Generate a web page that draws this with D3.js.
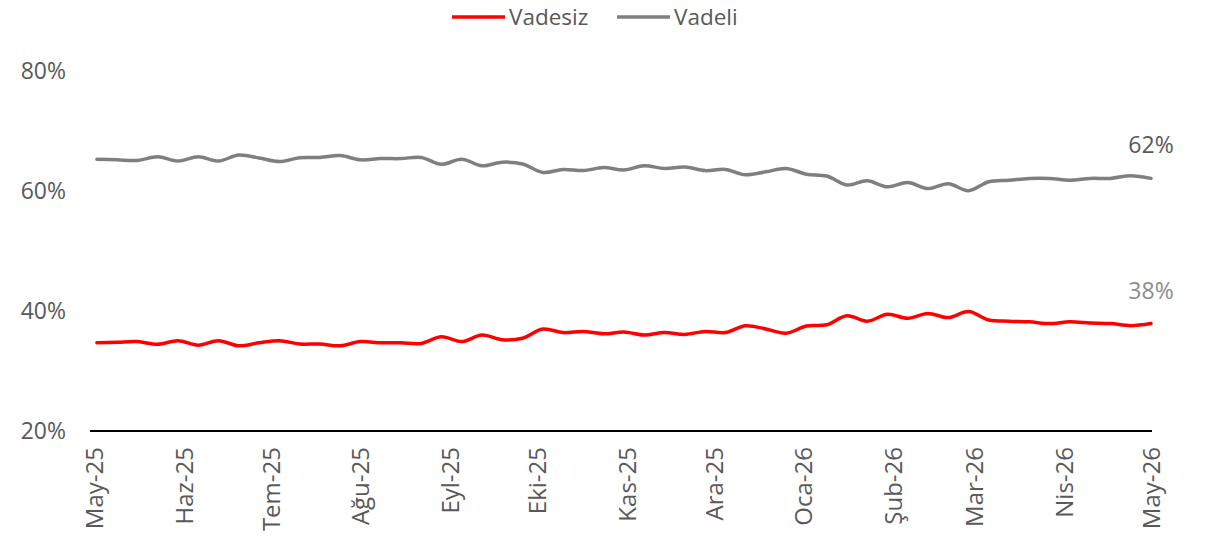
<!DOCTYPE html>
<html>
<head>
<meta charset="utf-8">
<script src="https://cdn.jsdelivr.net/npm/d3@7"></script>
<style>
  body { margin: 0; background: #fff; }
  text { font-family: "Open Sans", Lato, sans-serif; fill: #595959; }
</style>
</head>
<body>
<div class="chart"></div>
<script>
// weekly shares (%), first week ending 2 May 2025
var firstWeek = new Date(2025, 4, 2);
var vadesiz = [34.7, 34.8, 34.9, 34.45, 35.05, 34.3, 35.05, 34.2, 34.7, 35.05,
               34.5, 34.5, 34.2, 34.9, 34.7, 34.7, 34.6, 35.7, 34.9, 36.0,
               35.2, 35.45, 37.0, 36.4, 36.6, 36.2, 36.5, 36.0, 36.4, 36.1,
               36.6, 36.4, 37.55, 37.0, 36.3, 37.5, 37.7, 39.2, 38.3, 39.45,
               38.8, 39.6, 38.9, 39.9, 38.5, 38.3, 38.2, 37.9, 38.2, 38.0,
               37.9, 37.55, 37.9];
var vadeli = [65.3, 65.2, 65.1, 65.7, 65.0, 65.7, 65.0, 66.0, 65.5, 64.9,
              65.55, 65.6, 65.9, 65.2, 65.4, 65.4, 65.6, 64.45, 65.3, 64.2,
              64.8, 64.5, 63.1, 63.6, 63.4, 63.9, 63.5, 64.2, 63.75, 64.0,
              63.4, 63.6, 62.7, 63.2, 63.75, 62.8, 62.5, 61.0, 61.7, 60.7,
              61.4, 60.4, 61.2, 60.05, 61.55, 61.8, 62.1, 62.1, 61.8, 62.1,
              62.1, 62.55, 62.1];
var monthLabels = ["May-25", "Haz-25", "Tem-25", "Ağu-25", "Eyl-25", "Eki-25", "Kas-25",
                   "Ara-25", "Oca-26", "Şub-26", "Mar-26", "Nis-26", "May-26"];
var yTicks = [20, 40, 60, 80];
var seriesNames = ["Vadesiz", "Vadeli"];
var seriesColors = ["#ff0000", "#7f7f7f"];
var labelColors = ["#8c8c8c", "#595959"];

var width = 1215, height = 539;
var svg = d3.select(".chart").append("svg").attr("width", width).attr("height", height);

var x = d3.scaleTime()
    .domain([new Date(2025, 4, 1), new Date(2026, 4, 1)])
    .range([94, 1151]);
var y = d3.scaleLinear().domain([20, 80]).range([431, 71]);

var dates = vadesiz.map(function(d, i) { return d3.timeDay.offset(firstWeek, i * 7); });

// y labels
svg.selectAll(".ylab").data(yTicks).enter().append("text")
    .attr("class", "ylab")
    .attr("x", 66)
    .attr("y", function(d) { return y(d); })
    .attr("dy", "0.35em")
    .attr("text-anchor", "end")
    .style("font-size", "23px")
    .text(function(d) { return d + "%"; });

// x axis
var monthTicks = d3.timeMonth.range(new Date(2025, 4, 1), new Date(2026, 4, 2));
var xAxis = d3.axisBottom(x)
    .tickValues(monthTicks)
    .tickSize(0)
    .tickFormat(function(d, i) { return monthLabels[i]; });

var gx = svg.append("g").attr("transform", "translate(0," + y(20) + ")").call(xAxis);
gx.select(".domain").attr("d", "M90,0H1152").attr("stroke", "#000").attr("stroke-width", 2.2);
gx.selectAll("text")
    .attr("transform", "rotate(-90)")
    .attr("x", -16)
    .attr("y", 0)
    .attr("dy", "0.35em")
    .attr("text-anchor", "end")
    .style("font-size", "24px")
    .style("font-family", "'Open Sans', Lato, sans-serif")
    .attr("fill", "#595959");

// lines
var line = d3.line()
    .x(function(d, i) { return x(dates[i]); })
    .y(function(d) { return y(d); })
    .curve(d3.curveCatmullRom.alpha(0.5));

[vadesiz, vadeli].forEach(function(s, k) {
    svg.append("path")
        .datum(s)
        .attr("d", line)
        .attr("fill", "none")
        .attr("stroke", seriesColors[k])
        .attr("stroke-width", 3.5)
        .attr("stroke-linecap", "round");

    var last = s.length - 1;
    svg.append("text")
        .attr("x", x(dates[last]))
        .attr("y", y(s[last]) - 25)
        .attr("text-anchor", "middle")
        .style("font-size", "23px")
        .style("fill", labelColors[k])
        .text(Math.round(s[last]) + "%");
});

// legend
var legend = svg.append("g");
var legX = [452, 617];
seriesNames.forEach(function(n, k) {
    legend.append("line")
        .attr("x1", legX[k]).attr("x2", legX[k] + 53)
        .attr("y1", 17).attr("y2", 17)
        .attr("stroke", seriesColors[k])
        .attr("stroke-width", 3.5);
    legend.append("text")
        .attr("x", legX[k] + 57)
        .attr("y", 17)
        .attr("dy", "0.35em")
        .style("font-size", "22.5px")
        .text(n);
});
</script>
</body>
</html>
